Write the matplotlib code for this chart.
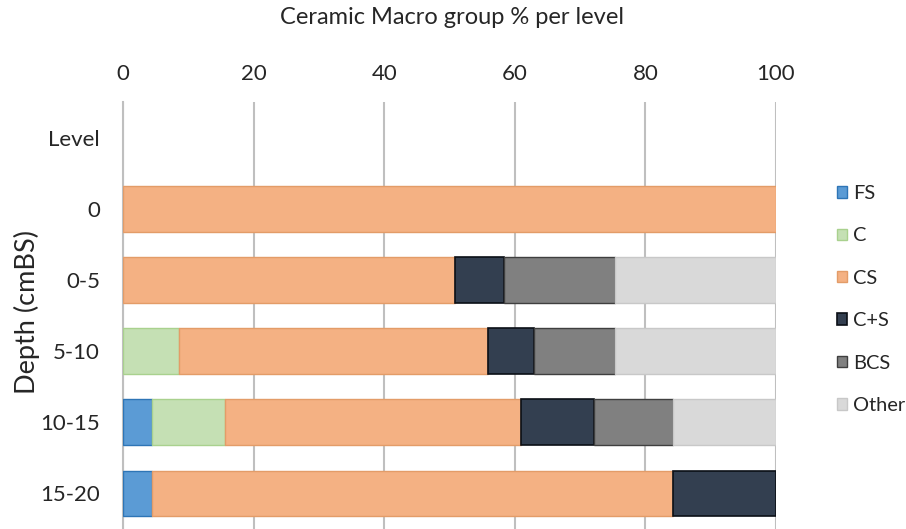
import numpy as np
import matplotlib
matplotlib.use('Agg')
import matplotlib.pyplot as plt

plt.rcParams['font.family'] = ['Lato', 'DejaVu Sans']

# values (percent per level)
levels = ['Level', '0', '0-5', '5-10', '10-15', '15-20']
fs = [0, 0, 0, 0, 4.4, 4.4]
c = [0, 0, 0, 8.6, 11.2, 0]
cs = [0, 100, 50.8, 47.3, 45.4, 79.9]
c_s = [0, 0, 7.5, 7.1, 11.2, 15.7]
bcs = [0, 0, 17.1, 12.4, 12.0, 0]
other = [0, 0, 24.6, 24.6, 15.8, 0]

groups = ['FS', 'C', 'CS', 'C+S', 'BCS', 'Other']
series = [fs, c, cs, c_s, bcs, other]
fills = ['#5B9BD5', '#C5E0B4', '#F4B183', '#333F50', '#808080', '#D9D9D9']
edges = ['#2E75B6', '#A9D18E', '#E39C68', '#0B0F16', '#3F3F3F', '#C8C8C8']
widths = [1.0, 1.0, 1.0, 1.2, 1.0, 1.0]

fig = plt.figure(figsize=(9.06, 5.29), dpi=100)
ax = fig.add_axes([123 / 906, 0, 653 / 906, 427 / 529])

y = np.arange(len(levels))
left = np.zeros(len(levels))
for name, vals, fc, ec, lw in zip(groups, series, fills, edges, widths):
    vals = np.array(vals, dtype=float)
    m = vals > 0  # skip empty segments so no stray edges are drawn
    ax.barh(y[m], vals[m], left=left[m], height=0.64, color=fc, edgecolor=ec,
            linewidth=lw, label=name, zorder=3)
    left += vals

ax.set_xlim(0, 100)
ax.set_ylim(len(levels) - 0.5, -0.5)
ax.set_yticks(y)
ax.set_yticklabels(levels)
ax.set_xticks(np.arange(0, 101, 20))
ax.xaxis.tick_top()
ax.tick_params(axis='both', length=0, labelsize=16, colors='#262626')
ax.tick_params(axis='x', pad=13)
ax.tick_params(axis='y', pad=16.5)

ax.grid(axis='x', color='#BFBFBF', linewidth=1.5, zorder=0)
for s in ['top', 'right', 'bottom']:
    ax.spines[s].set_visible(False)
ax.spines['left'].set_color('#BFBFBF')
ax.spines['left'].set_linewidth(1.5)

ax.set_ylabel('Depth (cmBS)', fontsize=19.5, color='#262626')
ax.yaxis.set_label_coords((40 - 123) / 653, (529 - 312) / 427)
fig.text(452 / 906, 1 - 18 / 529, 'Ceramic Macro group % per level',
         ha='center', va='center', fontsize=17, color='#262626')

leg = ax.legend(loc='upper left', bbox_to_anchor=(829 / 906, 1 - 177 / 529),
                bbox_transform=fig.transFigure, frameon=False, fontsize=14.4,
                handlelength=0.5, handleheight=0.5, handletextpad=0.3,
                labelspacing=1.27, borderaxespad=0)
for t in leg.get_texts():
    t.set_color('#262626')

fig.savefig('out.png', dpi=100)
